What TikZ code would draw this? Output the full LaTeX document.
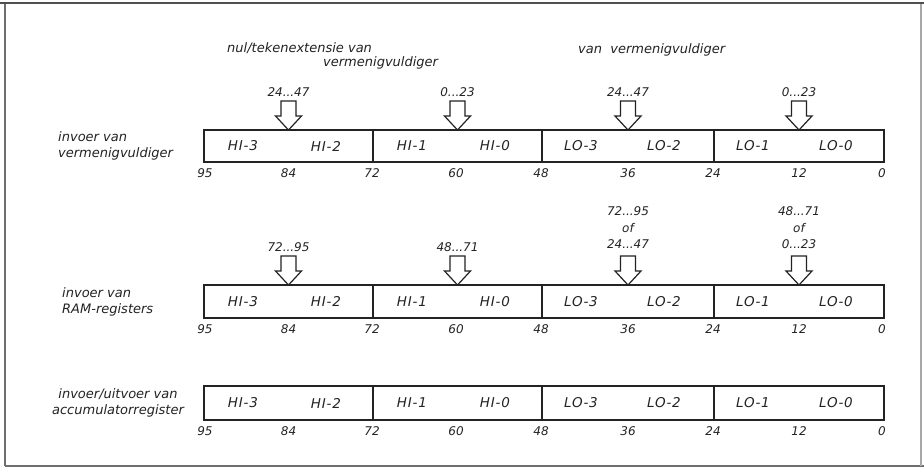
\documentclass[tikz,border=0pt]{standalone}
\usepackage{fontspec}
\setmainfont{DejaVu Sans}
\newfontfamily\techfont[LetterSpace=6]{DejaVu Sans}
\definecolor{ink}{RGB}{35,35,35}
\definecolor{framec}{RGB}{110,110,110}
\newcommand\rdots{...}
\begin{document}
\begin{tikzpicture}[x=1pt,y=-1pt,
  seg/.style={draw=ink, line width=1.6pt, inner sep=0pt, outer sep=0pt, anchor=north west},
  lab/.style={font=\fontsize{13}{15}\selectfont\itshape, text=ink, inner sep=0pt},
  boxlab/.style={font=\techfont\fontsize{13.5}{15}\selectfont\itshape, text=ink, inner sep=0pt},
  num/.style={font=\fontsize{12}{14}\selectfont\itshape, text=ink, inner sep=0pt},
  side/.style={font=\fontsize{13}{16}\selectfont\itshape, text=ink, inner sep=0pt},
  arrowline/.style={draw=ink, line width=1.2pt, line join=miter, fill=white},
  blockarr/.pic={\path[arrowline] (0,0) -- (-13,-14) -- (-7.5,-14) -- (-7.5,-29) -- (7.5,-29) -- (7.5,-14) -- (13,-14) -- cycle;}
]
\useasboundingbox (0,0) rectangle (924,469);
\fill[white] (0,0) rectangle (924,469);
% outer frame
\draw[framec, line width=1.6pt] (5,466) -- (5,3);
\draw[framec, line width=1.8pt] (5,466) -- (924,466);
\draw[framec!60, line width=1.2pt] (921,466) -- (921,3);
\draw[ink!80, line width=2.2pt] (0,3) -- (924,3);

% register rows
\foreach \r/\t/\h in {1/130/32, 2/285/33, 3/386/34} {
  \foreach \i/\a/\b/\p/\q in {0/204/373/HI-3/HI-2, 1/373/542/HI-1/HI-0, 2/542/714/LO-3/LO-2, 3/714/884/LO-1/LO-0} {
    \node[seg, minimum width={\b-\a}, minimum height=\h] (s\r\i) at (\a,\t) {};
    \node[boxlab] (p\r\i) at ([xshift=39pt]s\r\i.west) {\p};
    \node[boxlab] (q\r\i) at ([xshift=122pt]s\r\i.west) {\q};
  }
  \foreach \k/\x/\v in {0/205/95, 1/288.5/84, 2/372/72, 3/456/60, 4/541/48, 5/628/36, 6/713/24, 7/799/12, 8/882/0} {
    \node[num] (n\r\k) at (\x,{\t+\h+11}) {\v};
  }
}

% row 1 arrows and labels
\foreach \i/\txt in {0/24\rdots47, 1/0\rdots23, 2/24\rdots47, 3/0\rdots23} {
  \pic at (s1\i.north) {blockarr};
  \node[num] (a1\i) at ([yshift=38pt]s1\i.north) {\txt};
}
% row 2 arrows and labels
\foreach \i in {0,1,2,3} { \pic at (s2\i.north) {blockarr}; }
\node[num] (a20) at ([yshift=38pt]s20.north) {72\rdots95};
\node[num] (a21) at ([yshift=38pt]s21.north) {48\rdots71};
\node[num, align=center, font=\fontsize{12}{16.5}\selectfont\itshape] (a22) at ([yshift=57pt]s22.north) {72\rdots95\\of\\24\rdots47};
\node[num, align=center, font=\fontsize{12}{16.5}\selectfont\itshape] (a23) at ([yshift=57pt]s23.north) {48\rdots71\\of\\0\rdots23};

% headers
\node[lab, anchor=west] (h1) at (227,48) {nul/tekenextensie van};
\node[lab, anchor=west] (h2) at (323,63) {vermenigvuldiger};
\node[lab, anchor=west] (h3) at (578,50) {van\ \ vermenigvuldiger};

% side labels
\node[side, align=left, anchor=west] (t1) at (58,146) {invoer van\\vermenigvuldiger};
\node[side, align=left, anchor=west] (t2) at (62,301.5) {invoer van\\RAM-registers};
\node[side, align=center] (t3) at (118,403) {invoer/uitvoer van\\accumulatorregister};
\end{tikzpicture}
\end{document}
